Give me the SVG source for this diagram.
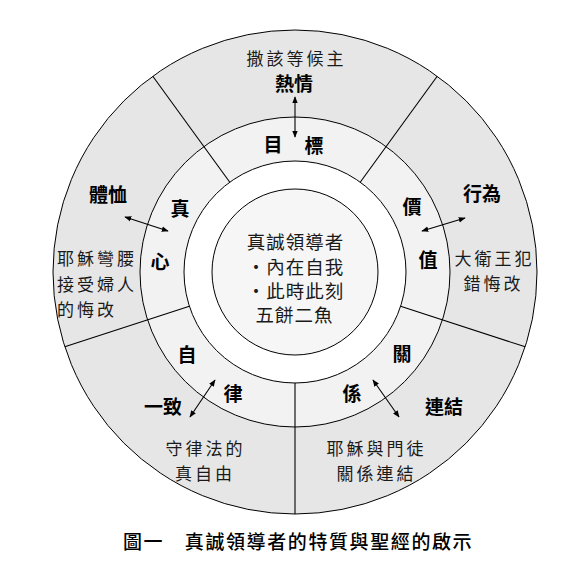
<svg xmlns="http://www.w3.org/2000/svg" width="565" height="566" viewBox="0 0 565 566">
<style>
.ring{stroke:#000;stroke-width:1}
.div{stroke:#000;stroke-width:1.1;fill:none}
.b{font-family:"Noto Sans CJK TC","Noto Sans CJK SC",sans-serif;font-weight:700;font-size:19px;fill:#000;text-anchor:middle;dominant-baseline:central}
.s{font-family:"Noto Sans CJK TC","Noto Sans CJK SC",sans-serif;font-weight:400;font-size:17px;fill:#1a1a1a;letter-spacing:3px;dominant-baseline:central}
.c{font-family:"Noto Sans CJK TC","Noto Sans CJK SC",sans-serif;font-weight:400;font-size:18.5px;letter-spacing:1px;fill:#1a1a1a;text-anchor:middle;dominant-baseline:central}
.cap{font-family:"Noto Sans CJK TC","Noto Sans CJK SC",sans-serif;font-weight:500;font-size:19px;fill:#000;letter-spacing:1.6px;dominant-baseline:central}
.arr{stroke:#000;stroke-width:1.1;fill:none;marker-start:url(#ah);marker-end:url(#ah)}
</style>
<defs>
<marker id="ah" viewBox="0 0 10 10" refX="9" refY="5" markerWidth="7" markerHeight="7" markerUnits="userSpaceOnUse" orient="auto-start-reverse">
<path d="M0,1 L10,5 L0,9 Z" fill="#000"/>
</marker>
</defs>
<rect width="565" height="566" fill="#fff"/>
<g id="rings">
<circle class="ring" cx="295" cy="272" r="242" fill="#e6e6e6"/>
<circle class="ring" cx="295" cy="272" r="155" fill="#f2f2f2"/>
<circle class="ring" cx="295" cy="272" r="111" fill="#ffffff"/>
<circle class="ring" cx="295" cy="272" r="83" fill="#f6f6f6"/>
<line class="div" x1="229.8" y1="182.2" x2="152.8" y2="76.2"/>
<line class="div" x1="360.2" y1="182.2" x2="437.2" y2="76.2"/>
<line class="div" x1="400.6" y1="306.3" x2="525.2" y2="346.8"/>
<line class="div" x1="189.4" y1="306.3" x2="64.8" y2="346.8"/>
<line class="div" x1="295" y1="383" x2="295" y2="514"/>
</g>
<g id="center">
<text class="c" x="295.5" y="241">真誠領導者</text>
<text class="c" x="295.5" y="265.5">・內在自我</text>
<text class="c" x="295.5" y="289.5">・此時此刻</text>
<text class="c" x="294.5" y="314">五餅二魚</text>
</g>
<g id="goal">
<text class="b" x="273" y="143">目</text>
<text class="b" x="314" y="144">標</text>
<text class="b" x="294" y="82">熱情</text>
<text class="s" x="296.5" y="57.5" text-anchor="middle">撒該等候主</text>
</g>
<g id="value">
<text class="b" x="412" y="205">價</text>
<text class="b" x="428" y="258">值</text>
<text class="b" x="482" y="192">行為</text>
<text class="s" x="494.5" y="257" text-anchor="middle">大衛王犯</text>
<text class="s" x="493.5" y="282" text-anchor="middle">錯悔改</text>
</g>
<g id="relation">
<text class="b" x="402" y="352">關</text>
<text class="b" x="352" y="392">係</text>
<text class="b" x="444" y="405">連結</text>
<text class="s" x="376.5" y="447" text-anchor="middle">耶穌與門徒</text>
<text class="s" x="376.5" y="472" text-anchor="middle">關係連結</text>
</g>
<g id="discipline">
<text class="b" x="187" y="353">自</text>
<text class="b" x="233" y="392">律</text>
<text class="b" x="163" y="405">一致</text>
<text class="s" x="205.5" y="447" text-anchor="middle">守律法的</text>
<text class="s" x="205" y="472" text-anchor="middle">真自由</text>
</g>
<g id="heart">
<text class="b" x="180" y="207">真</text>
<text class="b" x="160" y="260">心</text>
<text class="b" x="108" y="193">體恤</text>
<text class="s" x="57" y="257">耶穌彎腰</text>
<text class="s" x="57" y="283">接受婦人</text>
<text class="s" x="57" y="308">的悔改</text>
</g>
<g id="connectors">
<line class="arr" x1="295" y1="97" x2="295" y2="137"/>
<line class="arr" x1="125" y1="217" x2="168" y2="231"/>
<line class="arr" x1="422" y1="231" x2="465" y2="218"/>
<line class="arr" x1="190" y1="417" x2="215" y2="380"/>
<line class="arr" x1="373" y1="380" x2="399" y2="417"/>
</g>
<g id="caption">
<text class="cap" x="123" y="540">圖一　真誠領導者的特質與聖經的啟示</text>
</g>
</svg>
